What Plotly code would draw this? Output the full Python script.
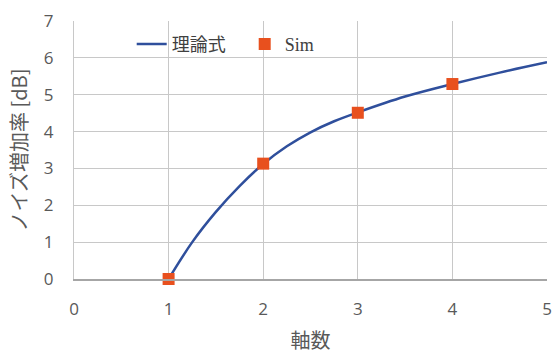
import plotly.graph_objects as go

# Theoretical noise-increase curve (axis count vs. dB)
theory_x = [1, 1.25, 1.5, 1.75, 2, 2.25, 2.5, 2.75, 3, 3.5, 4, 4.5, 5]
theory_y = [0, 1.0, 1.82, 2.52, 3.12, 3.6, 3.98, 4.28, 4.52, 4.95, 5.29, 5.6, 5.88]

# Simulation results
sim_x = [1, 2, 3, 4]
sim_y = [0, 3.13, 4.51, 5.29]

x_ticks = [0, 1, 2, 3, 4, 5]
y_ticks = [0, 1, 2, 3, 4, 5, 6, 7]

tick_font = dict(family="Open Sans, Liberation Sans, sans-serif", size=17, color="#595959")
title_font = dict(family="Noto Sans CJK JP, sans-serif", size=20, color="#595959")

fig = go.Figure()
fig.add_trace(go.Scatter(
    x=theory_x, y=theory_y, mode="lines", name="理論式",
    line=dict(color="#2f4f9c", width=2.5, shape="spline"),
))
fig.add_trace(go.Scatter(
    x=sim_x, y=sim_y, mode="markers",
    name="<span style='font-family:Liberation Serif, serif'>Sim</span>",
    marker=dict(symbol="square", size=12, color="#e8501e"),
    cliponaxis=False,
))

fig.update_layout(
    width=555, height=354,
    margin=dict(l=74, r=8, t=21, b=75),
    paper_bgcolor="white", plot_bgcolor="white",
    showlegend=True,
    legend=dict(
        orientation="h", x=0.122, y=0.91, xanchor="left", yanchor="middle",
        bgcolor="rgba(0,0,0,0)",
        font=dict(family="Noto Sans CJK JP, serif", size=18, color="#404040"),
        itemwidth=30,
        entrywidth=68, entrywidthmode="pixels",
    ),
)
fig.update_xaxes(
    range=[0, 5], tickvals=x_ticks, ticktext=[str(v) for v in x_ticks],
    showgrid=True, gridcolor="#c8c8c8", gridwidth=1,
    showline=True, linecolor="#a6a6a6", linewidth=1.5,
    zeroline=False, ticks="", ticklabelstandoff=14,
    tickfont=tick_font, automargin=False,
    title=dict(text="軸数", font=title_font, standoff=24),
)
fig.update_yaxes(
    range=[0, 7], tickvals=y_ticks, ticktext=[str(v) for v in y_ticks],
    showgrid=True, gridcolor="#c8c8c8", gridwidth=1,
    showline=True, linecolor="#c8c8c8", linewidth=1,
    zeroline=False, ticks="", ticklabelstandoff=16,
    tickfont=tick_font, automargin=False,
    title=dict(text="ノイズ増加率 [dB]", font=title_font, standoff=10),
)

fig.write_html("out.html")
